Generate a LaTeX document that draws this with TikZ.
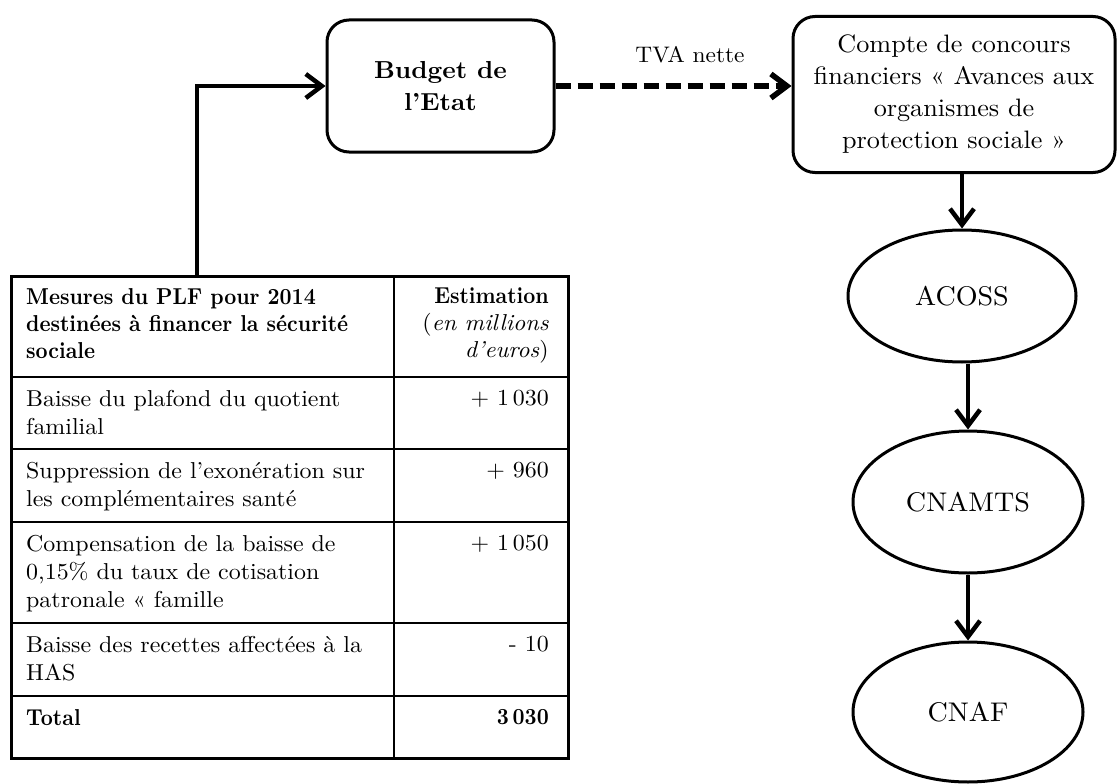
\documentclass[tikz,border=0pt]{standalone}
\usepackage{fontspec}
\setmainfont{lmroman10-regular.otf}[ItalicFont=lmroman10-italic.otf, BoldFont=lmroman10-bold.otf, BoldItalicFont=lmroman10-bolditalic.otf, FakeStretch=1.04]
\newfontfamily\boldfam{lmroman10-bold.otf}[FakeStretch=0.91]
\usetikzlibrary{arrows.meta,shapes.geometric}
\begin{document}
\begin{tikzpicture}[x=1pt,y=-1pt,
  tabtext/.style={font=\fontsize{23}{28}\selectfont, inner sep=0pt, align=left, anchor=north west},
  tabnum/.style={font=\fontsize{23}{28}\selectfont, inner sep=0pt, align=right, anchor=north east},
  tabbold/.style={font=\fontsize{23}{27}\boldfam},
  tabline/.style={line width=2.5pt},
  rbox/.style={draw, line width=3pt, rounded corners=22pt, align=center, inner sep=0pt},
  oval/.style={ellipse, draw, line width=3pt, inner sep=0pt, font=\fontsize{27}{30}\selectfont},
  flow/.style={line width=4.5pt, -{Straight Barb[length=16pt,width=24pt]}},
  dflow/.style={line width=5.5pt, dash pattern=on 15pt off 7pt, -{Straight Barb[length=16pt,width=24pt]}}
]
\useasboundingbox (0,0) rectangle (1117,784);

% table
\node[draw, line width=2.5pt, minimum width=557pt, minimum height=482pt, inner sep=0pt, anchor=north west] (tab) at (10,275) {};
\draw[tabline] (394,275) -- (394,757);
\foreach \yy in {377,449,522,623,696} { \draw[tabline] (10,\yy) -- (567,\yy); }

\node[tabtext, tabbold] (h1) at (26,288) {Mesures du PLF pour 2014\\destinées à financer la sécurité\\sociale};
\node[tabnum, font=\fontsize{23}{27}\selectfont] (h2) at (549,288) {{\fontsize{23}{27}\boldfam Estimation}\\(\textit{en millions}\\\textit{d’euros})};

\node[tabtext] (r1a) at (26,390) {Baisse du plafond du quotient\\familial};
\node[tabnum] (r1b) at (549,390) {+ 1\,030};
\node[tabtext] (r2a) at (26,462) {Suppression de l’exonération sur\\les complémentaires santé};
\node[tabnum] (r2b) at (549,462) {+ 960};
\node[tabtext] (r3a) at (26,535) {Compensation de la baisse de\\0,15\% du taux de cotisation\\patronale « famille};
\node[tabnum] (r3b) at (549,535) {+ 1\,050};
\node[tabtext] (r4a) at (26,636) {Baisse des recettes affectées à la\\HAS};
\node[tabnum] (r4b) at (549,636) {- 10};
\node[tabtext, tabbold] (r5a) at (26,709) {Total};
\node[tabnum, tabbold] (r5b) at (549,709) {3\,030};

% boxes
\node[rbox, minimum width=227pt, minimum height=132pt, font=\fontsize{24.6}{32}\selectfont\bfseries] (budget) at (440.5,86) {Budget de\\l’Etat};
\node[rbox, minimum width=322pt, minimum height=156pt, font=\fontsize{25.2}{32}\selectfont] (cpt) at (954,94.5) {Compte de concours\\financiers « Avances aux\\organismes de\\protection sociale »};

\node[oval, minimum width=228pt, minimum height=132pt] (acoss) at (962,296) {ACOSS};
\node[oval, minimum width=230pt, minimum height=142pt] (cnamts) at (968,502) {CNAMTS};
\node[oval, minimum width=230pt, minimum height=140pt] (cnaf) at (968,712) {CNAF};

\node[font=\fontsize{22.5}{28}\selectfont, inner sep=0pt] (tva) at (690,55) {TVA nette};

% connectors
\draw[flow] ([xshift=187pt]tab.north west) |- (budget.west);
\draw[dflow] (budget.east) -- (budget.east -| cpt.west);
\draw[flow] (acoss.north |- cpt.south) -- (acoss.north);
\draw[flow] (cnamts.north |- acoss.south) -- (cnamts.north);
\draw[flow] (cnamts.south) -- (cnaf.north);
\end{tikzpicture}
\end{document}
